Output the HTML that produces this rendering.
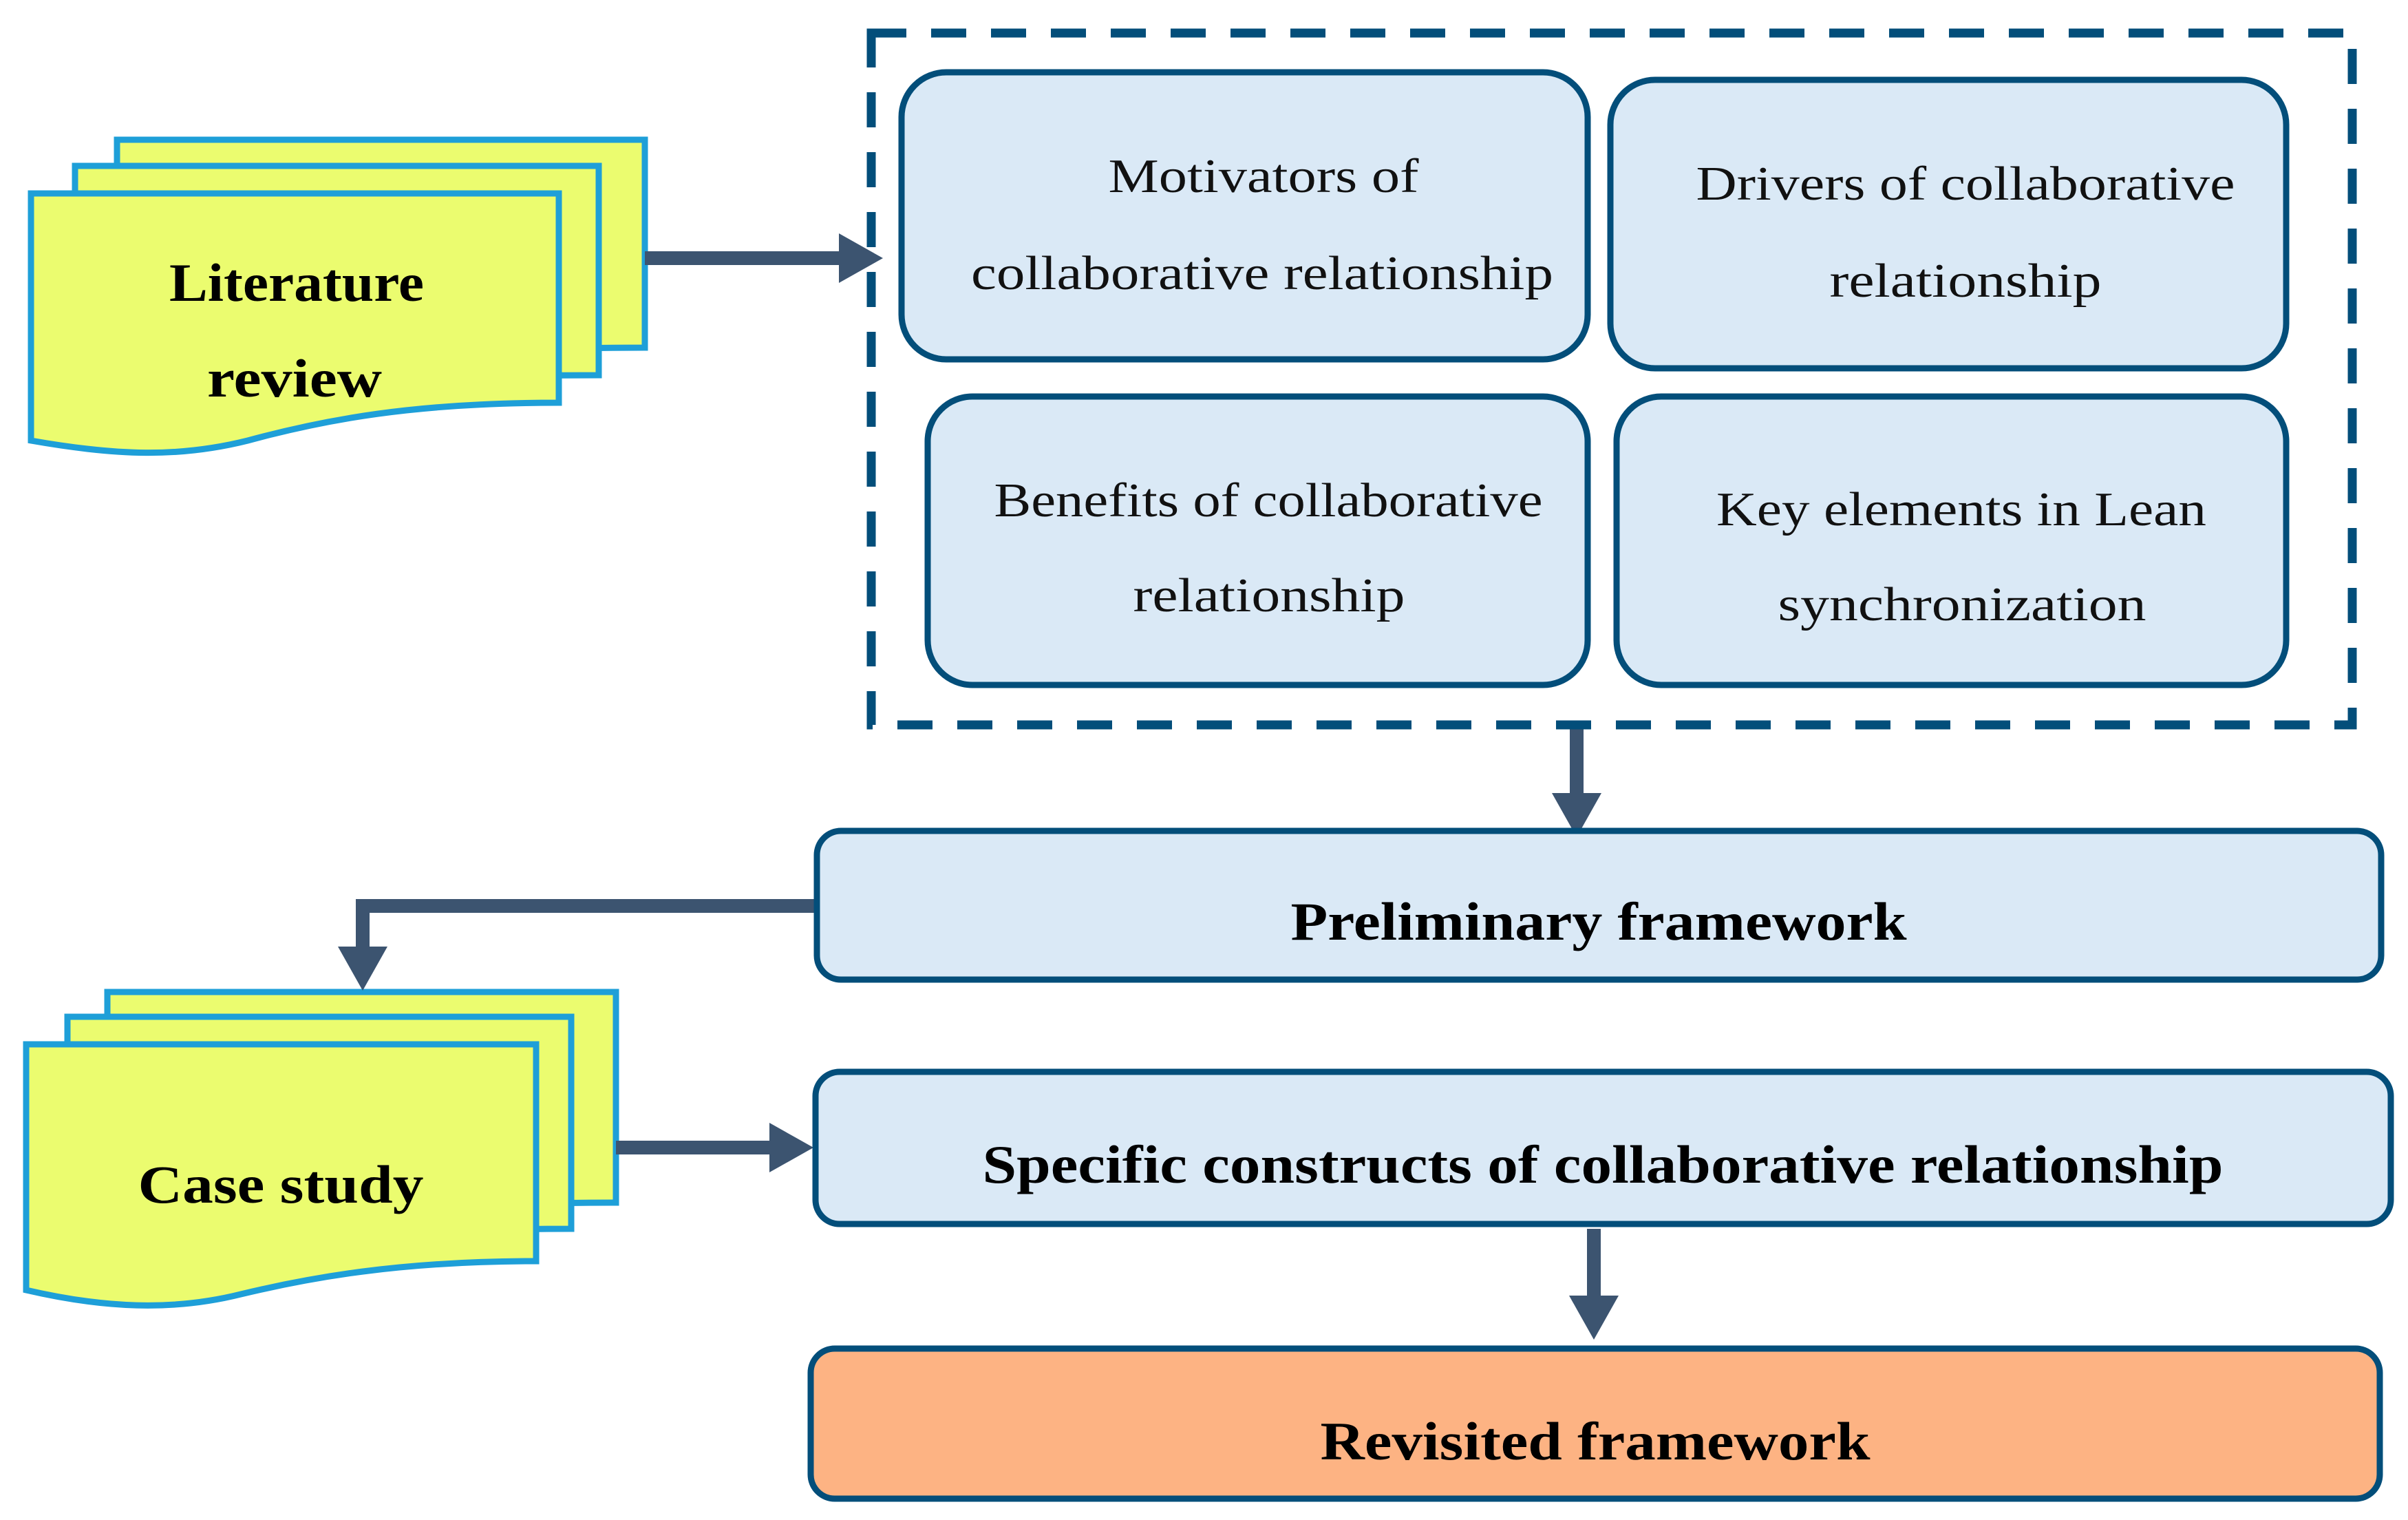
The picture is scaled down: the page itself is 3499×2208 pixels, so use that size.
<!DOCTYPE html>
<html><head><meta charset="utf-8"><style>html,body{margin:0;padding:0;background:#fff}svg{display:block}</style></head>
<body>
<svg width="3499" height="2208" viewBox="0 0 3499 2208" xmlns="http://www.w3.org/2000/svg">
<defs>
<marker id="ah" markerWidth="4" markerHeight="4" refX="2.2" refY="2" orient="auto" markerUnits="strokeWidth"><path d="M0,0.2 L3.2,2 L0,3.8 z" fill="#3C5470"/></marker>
</defs>
<g fill="#EBFC6F" stroke="#1E9FD8" stroke-width="9">
<path d="M170,203 H937 V505 C 700,505 500,520 170,560 Z"/>
<path d="M109,241 H870 V545 C 640,545 440,560 109,600 Z"/>
<path d="M45,281 H812 V585 C 600,585 470,610 360,640 C 260,665 170,662 45,640 Z"/>
<path d="M156,1441 H895 V1747 C 670,1747 460,1760 156,1800 Z"/>
<path d="M98,1477 H830 V1785 C 610,1785 420,1800 98,1840 Z"/>
<path d="M38,1517 H779 V1832 C 580,1832 450,1856 350,1880 C 250,1905 150,1900 38,1874 Z"/>
</g>
<g fill="none" stroke="#3C5470" stroke-width="20">
<line x1="937" y1="375" x2="1263" y2="375" marker-end="url(#ah)"/>
<line x1="2291" y1="1055" x2="2291" y2="1196" marker-end="url(#ah)"/>
<polyline points="1187,1316 527,1316 527,1419" marker-end="url(#ah)"/>
<line x1="895" y1="1667" x2="1162" y2="1667" marker-end="url(#ah)"/>
<line x1="2316" y1="1785" x2="2316" y2="1926" marker-end="url(#ah)"/>
</g>
<rect x="1266" y="48" width="2152" height="1005" fill="none" stroke="#034E7A" stroke-width="13" stroke-dasharray="51 36"/>
<g fill="#DAE9F6" stroke="#034E7A" stroke-width="9">
<rect x="1310" y="105" width="997" height="417" rx="65"/>
<rect x="2340" y="116" width="982" height="419" rx="65"/>
<rect x="1348" y="576" width="959" height="419" rx="65"/>
<rect x="2349" y="576" width="973" height="419" rx="65"/>
<rect x="1187" y="1207" width="2273" height="216" rx="35"/>
<rect x="1185" y="1557" width="2289" height="221" rx="35"/>
<rect x="1178" y="1959" width="2280" height="218" rx="35" fill="#FDB383"/>
</g>
<g font-family="'Liberation Serif', serif" font-size="70" fill="#111" text-anchor="middle">
<text x="1836" y="279" textLength="451" lengthAdjust="spacingAndGlyphs">Motivators of</text>
<text x="1834" y="420" textLength="846" lengthAdjust="spacingAndGlyphs">collaborative relationship</text>
<text x="2856" y="290" textLength="783" lengthAdjust="spacingAndGlyphs">Drivers of collaborative</text>
<text x="2856" y="431" textLength="395" lengthAdjust="spacingAndGlyphs">relationship</text>
<text x="1843" y="750" textLength="797" lengthAdjust="spacingAndGlyphs">Benefits of collaborative</text>
<text x="1844" y="888" textLength="395" lengthAdjust="spacingAndGlyphs">relationship</text>
<text x="2850" y="763" textLength="712" lengthAdjust="spacingAndGlyphs">Key elements in Lean</text>
<text x="2851" y="901" textLength="535" lengthAdjust="spacingAndGlyphs">synchronization</text>
</g>
<g font-family="'Liberation Serif', serif" font-weight="bold" font-size="78" fill="#000" text-anchor="middle">
<text x="2323" y="1365" textLength="895" lengthAdjust="spacingAndGlyphs">Preliminary framework</text>
<text x="2329" y="1718" textLength="1803" lengthAdjust="spacingAndGlyphs">Specific constructs of collaborative relationship</text>
<text x="2318" y="2120" textLength="799" lengthAdjust="spacingAndGlyphs">Revisited framework</text>
<text x="431" y="437" textLength="370" lengthAdjust="spacingAndGlyphs">Literature</text>
<text x="428" y="576" textLength="254" lengthAdjust="spacingAndGlyphs">review</text>
<text x="408" y="1747" textLength="415" lengthAdjust="spacingAndGlyphs">Case study</text>
</g>
</svg>
</body></html>
